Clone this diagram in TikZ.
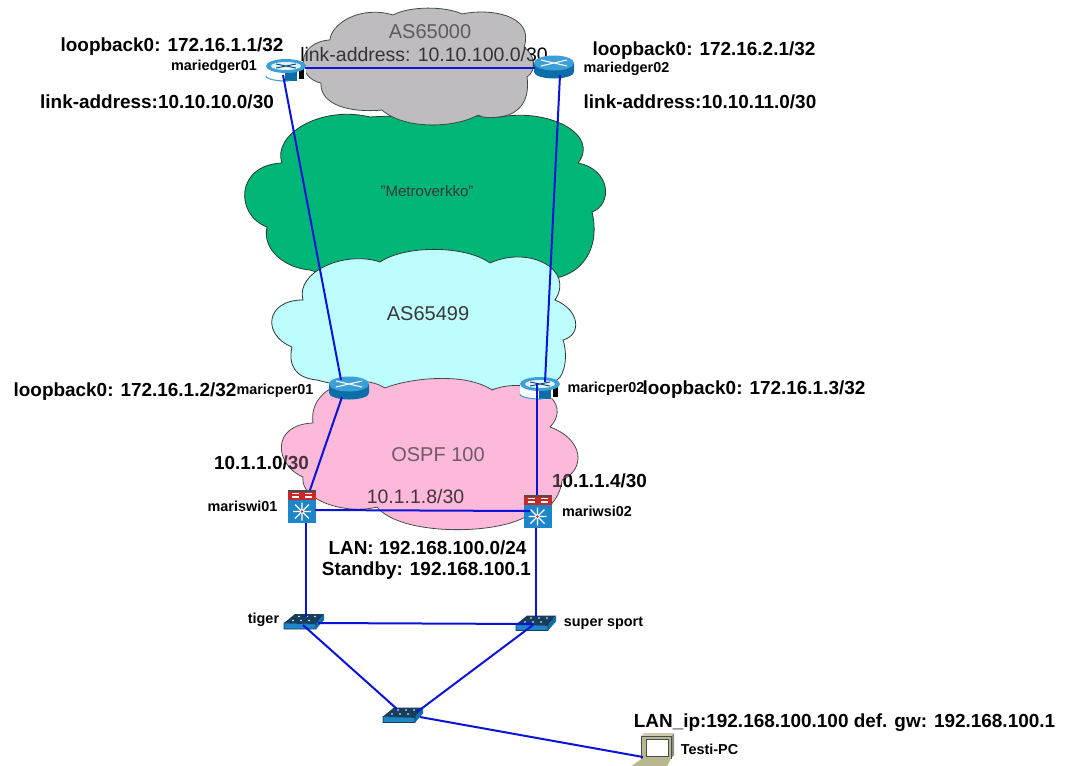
\documentclass[tikz,border=0pt]{standalone}
\usepackage{fontspec}
\setmainfont{Liberation Sans}
\newfontfamily\lblfont{Liberation Sans Bold}
\newfontfamily\devfont{Liberation Sans Bold}
\definecolor{cgrey}{HTML}{BEBCBE}
\definecolor{cgreen}{HTML}{00B677}
\definecolor{ccyan}{HTML}{BEFDFD}
\definecolor{cpink}{HTML}{FDB9DA}
\definecolor{cedge}{HTML}{2A3A30}
\definecolor{clink}{HTML}{0A14D8}
\definecolor{rdark}{HTML}{0C6EA8}
\definecolor{rlight}{HTML}{3C9FD8}
\definecolor{swblue}{HTML}{1C86C8}
\definecolor{swdark}{HTML}{173E5C}
\definecolor{swred}{HTML}{C82828}
\definecolor{pctan}{HTML}{B8B890}
\definecolor{pcgrey}{HTML}{8C8C78}
\tikzset{
  x=0.75pt,y=-0.75pt,
  cloudline/.style={draw=cedge,line width=0.6pt},
  link/.style={draw=clink,line width=1.5pt},
  lbl/.style={font=\lblfont\fontsize{14.2pt}{16pt}\selectfont,text=black,inner sep=0pt,yshift=-1pt},
  lbs/.style={font=\fontsize{14.6pt}{16pt}\selectfont,text=black,inner sep=0pt,yshift=-1pt},
  lbm/.style={font=\lblfont\fontsize{14.2pt}{16pt}\selectfont,text=black,inner sep=0pt,yshift=-1pt},
  dev/.style={font=\devfont\fontsize{10.8pt}{12pt}\selectfont,text=black,inner sep=0pt,yshift=-0.6pt},
  big/.style={font=\fontsize{15pt}{17pt}\selectfont,text=black!78,inner sep=0pt},
  small/.style={font=\fontsize{11.3pt}{13pt}\selectfont,text=black!78,inner sep=0pt},
  box/.style={inner sep=0pt,minimum width=#1*0.75pt,minimum height=15*0.75pt},
  routerblue/.pic={
    \fill[rdark] (-20,-4) -- (-20,5) arc[start angle=180,end angle=0,x radius=20,y radius=6.5] -- (20,-4) -- cycle;
    \fill[rlight] (0,-4) ellipse[x radius=20,y radius=7.5];
    \draw[white,line width=0.8pt] (-13,-7) -- (13,-1) (-13,-1) -- (13,-7);
  },
  routerwhite/.pic={
    \fill[white] (-20,-4) -- (-20,5) arc[start angle=180,end angle=0,x radius=20,y radius=6.5] -- (20,-4) -- cycle;
    \fill[rdark] (-1,-1) rectangle (11,11);
    \fill[black] (13,-2) rectangle (18,9);
    \draw[rlight,line width=0.8pt] (-20,6) arc[start angle=180,end angle=80,x radius=20,y radius=5];
    \fill[rlight] (0,-4) ellipse[x radius=20,y radius=7];
    \fill[white!85!rlight] (0,-4) ellipse[x radius=15,y radius=4];
    \draw[rdark!70!black,line width=0.7pt] (-10,-6) -- (10,-2) (-10,-2) -- (10,-6);
  },
  mlswitch/.pic={
    \fill[swred] (-14,-16.5) rectangle (14,-6.5);
    \fill[black!70] (-14,-16.5) rectangle (14,-15);
    \draw[white,line width=1pt] (-10,-13) -- (-3,-13) (3,-13) -- (10,-13) (-10,-9.5) -- (-3,-9.5) (3,-9.5) -- (10,-9.5);
    \fill[swblue] (-14,-6.5) rectangle (14,16.5);
    \draw[white,line width=0.9pt] (-9,5) -- (9,5) (0,-4) -- (0,14) (-7,-2) -- (7,12) (-7,12) -- (7,-2);
    \fill[swred] (0,5) circle[radius=1.4];
  },
  wgswitch/.pic={
    \fill[swdark] (-20,1.5) -- (-9,-7.5) -- (20,-7.5) -- (12,2.5) -- cycle;
    \fill[swblue] (-20,1.5) -- (12,2.5) -- (12,7.5) -- (-20,7.5) -- cycle;
    \fill[rdark] (12,2.5) -- (20,-7.5) -- (20,-1.5) -- (12,7.5) -- cycle;
    \draw[swdark,line width=0.5pt] (-20,1.5) -- (12,2.5) -- (12,7.5) -- (-20,7.5) -- cycle;
    \foreach \p in {(-11,-1),(-3,-1),(5,-1),(-5,-5),(3,-5),(11,-5)} \fill[white] \p circle[radius=0.9];
  },
  pcicon/.pic={
    \fill[pctan] (-16,-11) rectangle (14,11);
    \fill[pcgrey] (14,-11) -- (17,-14) -- (17,8) -- (14,11) -- cycle;
    \fill[pctan!70!white] (-16,-11) -- (-13,-14) -- (17,-14) -- (14,-11) -- cycle;
    \fill[white] (-11,-8) rectangle (11,9);
    \draw[black!70,line width=0.5pt] (-16,-11) rectangle (14,11) (-11,-8) rectangle (11,9);
    \fill[pctan] (-14,11) -- (14,11) -- (10,20) -- (-27,20) -- cycle;
  }
}
\def\greypath{(330,40) .. controls (331,24) and (360,5) .. (393,15) .. controls (410,6) and (445,6) .. (462,14) .. controls (490,8) and (535,15) .. (524,47) .. controls (535,55) and (537,70) .. (527,77) .. controls (530,100) and (520,115) .. (498,117) .. controls (490,118) and (483,118) .. (478,115) .. controls (455,128) and (405,130) .. (382,110) .. controls (350,113) and (320,105) .. (321,83) .. controls (296,78) and (296,42) .. (330,40) -- cycle}
\def\greenpath{(282,163) .. controls (272,135) and (320,105) .. (370,117) .. controls (400,115) and (470,115) .. (500,117) .. controls (550,108) and (600,135) .. (578,163) .. controls (612,170) and (612,205) .. (592,212) .. controls (600,245) and (585,270) .. (560,277) .. controls (500,290) and (370,290) .. (310,270) .. controls (285,268) and (262,250) .. (267,227) .. controls (235,215) and (235,165) .. (282,163) -- cycle}
\def\cyanpath{(303,300) .. controls (295,272) and (345,250) .. (380,262) .. controls (405,245) and (465,245) .. (490,263) .. controls (530,245) and (575,270) .. (555,300) .. controls (580,310) and (582,335) .. (563,340) .. controls (568,355) and (565,375) .. (557,380) .. controls (500,395) and (370,395) .. (317,380) .. controls (295,378) and (288,365) .. (292,347) .. controls (262,335) and (265,300) .. (303,300) -- cycle}
\def\pinkpath{(385,388) .. controls (410,378) and (465,372) .. (492,390) .. controls (530,375) and (575,400) .. (550,427) .. controls (585,440) and (585,470) .. (562,480) .. controls (560,500) and (545,515) .. (523,518) .. controls (490,535) and (400,535) .. (377,507) .. controls (345,515) and (300,500) .. (303,477) .. controls (275,465) and (270,425) .. (313,423) .. controls (308,385) and (360,372) .. (385,388) -- cycle}
\begin{document}
\begin{tikzpicture}
\useasboundingbox (0,0) rectangle (1066,765);
\fill[white] (0,0) rectangle (1066,765);
\clip (0,0) rectangle (1066,765);
% clouds
\path[cloudline,fill=cgreen] \greenpath;
\path[cloudline,fill=cgrey] \greypath;
\path[cloudline,fill=ccyan] \cyanpath;
\path[cloudline,fill=cpink] \pinkpath;
% texts beneath the cloud tint
\node[big] (tas1) at (430,32) {AS65000};
\node[lbs] (tla) at (424,53) {link-address: 10.10.100.0/30};
\node[small] (tmv) at (427,191) {"Metroverkko"};
\node[big] (tas2) at (428,314) {AS65499};
\node[big] (tos) at (438,455) {OSPF 100};
\node[lbm] (t11) at (261.5,461) {10.1.1.0/30};
\node[lbs] (t18) at (415.5,495) {10.1.1.8/30};
\node[lbm] (t14) at (599.5,479) {10.1.1.4/30};
\fill[cgrey,opacity=0.28] \greypath;
\fill[cpink,opacity=0.28] \pinkpath;
% devices
\node[box=40] (e1) at (286,70) {};
\node[box=42] (e2) at (554,67) {};
\node[box=40] (p1) at (349,388) {};
\node[box=40] (p2) at (540,388) {};
\node[box=28] (s1) at (302,506.5) {};
\node[box=28] (s2) at (537.5,511.5) {};
\node[box=40] (w1) at (304,621.5) {};
\node[box=40] (w2) at (536,623) {};
\node[box=40] (w3) at (403,715) {};
\node[box=32] (pc) at (657,747) {};
\pic at (e1.center) {routerwhite};
\pic at (e2.center) {routerblue};
\pic at (p1.center) {routerblue};
\pic at (p2.center) {routerwhite};
\pic at (s1.center) {mlswitch};
\pic at (s2.center) {mlswitch};
\pic at (w1.center) {wgswitch};
\pic at (w2.center) {wgswitch};
\pic at (w3.center) {wgswitch};
\pic at (pc.center) {pcicon};
% links
\draw[link] ([shift={(19,-2)}]e1.center) -- ([shift={(-19,1)}]e2.center);
\draw[link] ([shift={(-3,5)}]e1.center) -- ([shift={(-8,-8)}]p1.center);
\draw[link] ([shift={(6,8)}]e2.center) -- ([shift={(5,-6)}]p2.center);
\draw[link] ([shift={(-7,9)}]p1.center) -- ([shift={(8,-16.5)}]s1.center);
\draw[link] ([shift={(-3,-5)}]p2.center) -- ([shift={(-0.5,-16.5)}]s2.center);
\draw[link] ([shift={(13,3.5)}]s1.center) -- ([shift={(-7.5,-0.5)}]s2.center);
\draw[link] ([shift={(4,16.5)}]s1.center) -- ([shift={(2,-4.5)}]w1.center);
\draw[link] ([shift={(-1.5,16.5)}]s2.center) -- ([shift={(0,-6)}]w2.center);
\draw[link] ([shift={(14,1.5)}]w1.center) -- ([shift={(-3,1)}]w2.center);
\draw[link] ([shift={(-1,3.5)}]w1.center) -- ([shift={(-6,-6)}]w3.center);
\draw[link] ([shift={(-3,2)}]w2.center) -- ([shift={(14,-3)}]w3.center);
\draw[link] ([shift={(17,2)}]w3.center) -- ([shift={(-14,10)}]pc.center);
% outer labels
\node[lbl] (t1) at (172,45) {loopback0: 172.16.1.1/32};
\node[dev] (d1) at (214,66) {mariedger01};
\node[lbl] (t2) at (157,100) {link-address:10.10.10.0/30};
\node[lbl] (t3) at (704,49) {loopback0: 172.16.2.1/32};
\node[dev] (d2) at (626.5,68) {mariedger02};
\node[lbl] (t4) at (700,100) {link-address:10.10.11.0/30};
\node[lbl] (t5) at (125,390) {loopback0: 172.16.1.2/32};
\node[dev] (d3) at (275,390) {maricper01};
\node[dev] (d4) at (606,388) {maricper02};
\node[lbl] (t6) at (754,388) {loopback0: 172.16.1.3/32};
\node[dev] (d5) at (242.5,506) {mariswi01};
\node[dev] (d6) at (597,511) {mariwsi02};
\node[lbl] (t7) at (427.5,546) {LAN: 192.168.100.0/24};
\node[lbl] (t8) at (426.5,569) {Standby: 192.168.100.1};
\node[dev] (d7) at (263.5,619) {tiger};
\node[dev] (d8) at (603.5,622) {super sport};
\node[lbl] (t9) at (844.5,721) {LAN\_ip:192.168.100.100 def. gw: 192.168.100.1};
\node[dev] (d9) at (709.5,749) {Testi-PC};
\end{tikzpicture}
\end{document}
